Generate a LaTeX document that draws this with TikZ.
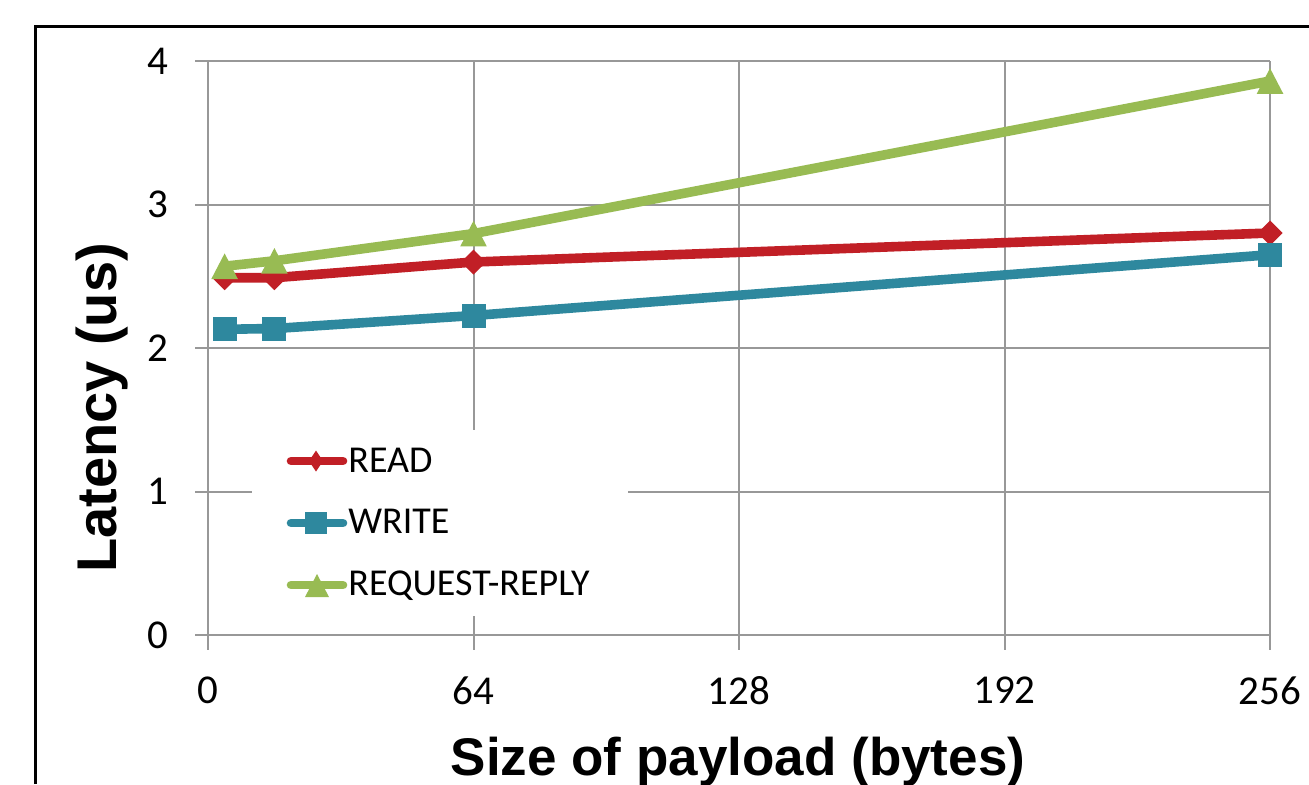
\documentclass[tikz,border=0pt]{standalone}
\usepackage{fontspec}
\setmainfont{Carlito}
\newfontfamily\titlefont{Liberation Sans}
\definecolor{readc}{RGB}{193,31,38}
\definecolor{writec}{RGB}{46,136,158}
\definecolor{reqc}{RGB}{152,187,83}
\definecolor{gridc}{RGB}{152,152,152}
\tikzset{
  gridline/.style={draw=gridc, line width=1pt},
  series/.style={line width=4.8pt, line join=round, line cap=round},
  ticklab/.style={inner sep=0pt, font=\fontsize{20.5}{24}\selectfont},
  legtext/.style={inner sep=0pt, anchor=base west, font=\fontsize{19}{22}\selectfont},
  axtitle/.style={inner sep=0pt, anchor=base, font=\titlefont\bfseries\fontsize{26.5}{30}\selectfont},
}
\newcommand\mkdiamond[4]{\fill[#1] (#2,#3) ++(0,-#4) -- ++(12.5,#4) -- ++(-12.5,#4) -- ++(-12.5,-#4) -- cycle;}
\newcommand\mkdiamondleg[3]{\fill[#1] (#2,#3) ++(0,-10.5) -- ++(7,10.5) -- ++(-7,10.5) -- ++(-7,-10.5) -- cycle;}
\newcommand\mksquare[4]{\fill[#1] (#2,#3) ++(-#4,-#4) rectangle ++(2*#4,2*#4);}
\newcommand\mktri[4]{\fill[#1] (#2,#3) ++(0,-#4) -- ++(#4+0.5,2*#4) -- ++(-2*#4-1,0) -- cycle;}
\begin{document}
\begin{tikzpicture}[x=0.5pt,y=-0.5pt]
\useasboundingbox[fill=white] (0,0) rectangle (1309,784);
% outer frame (right and bottom sides cut off)
\draw[line width=1.5pt] (35,784) -- (35,26) -- (1309,26);
% grid
\foreach \gx in {208,473.5,739,1004.5,1270} \draw[gridline] (\gx,61) -- (\gx,650);
\foreach \gy in {61,204.5,348,491.5,635} \draw[gridline] (195,\gy) -- (1270,\gy);
% y tick labels
\node[ticklab, anchor=east] (y0) at (169,635) {0};
\node[ticklab, anchor=east] (y1) at (169,491.5) {1};
\node[ticklab, anchor=east] (y2) at (169,348) {2};
\node[ticklab, anchor=east] (y3) at (169,204.5) {3};
\node[ticklab, anchor=east] (y4) at (169,61) {4};
% x tick labels
\node[ticklab] (x0) at (208,690.5) {0};
\node[ticklab] (x64) at (473.5,690.5) {64};
\node[ticklab] (x128) at (739,690.5) {128};
\node[ticklab] (x192) at (1004.5,690.5) {192};
\node[ticklab] (x256) at (1270,690.5) {256};
% axis titles
\node[axtitle] (xt) at (738,775) {Size of payload (bytes)};
\node[axtitle, rotate=90, font=\titlefont\bfseries\fontsize{28}{32}\selectfont] (yt) at (116,408) {Latency (us)};
% legend background
\fill[white] (252,430) rectangle (628,616);
% series: READ
\draw[series, readc] (224.6,277.7) -- (274.4,277.7) -- (473.5,262) -- (1270,233);
\foreach \px/\py in {224.6/277.7, 274.4/277.7, 473.5/262, 1270/233} {\mkdiamond{readc}{\px}{\py}{12.5}}
% series: WRITE
\draw[series, writec] (224.6,329.3) -- (274.4,328.5) -- (473.5,315.5) -- (1270,254.7);
\foreach \px/\py in {224.6/329.3, 274.4/328.5, 473.5/315.5, 1270/254.7} {\mksquare{writec}{\px}{\py}{12}}
% series: REQUEST-REPLY
\draw[series, reqc] (224.6,266.2) -- (274.4,260.8) -- (473.5,233.6) -- (1270,81);
\foreach \px/\py in {224.6/266.2, 274.4/260.8, 473.5/233.6, 1270/81} {\mktri{reqc}{\px}{\py}{12.8}}
% legend
\draw[series, readc, line width=4.3pt] (291,461) -- (343,461);
\mkdiamondleg{readc}{316}{461}
\node[legtext] (lread) at (348,472) {READ};
\draw[series, writec, line width=4.3pt] (291,523) -- (343,523);
\mksquare{writec}{316}{523}{11}
\node[legtext] (lwrite) at (348,533.5) {WRITE};
\draw[series, reqc, line width=4.3pt] (291,585) -- (343,585);
\mktri{reqc}{317}{585.5}{11.5}
\node[legtext] (lreq) at (348,595) {REQUEST-REPLY};
\end{tikzpicture}
\end{document}
